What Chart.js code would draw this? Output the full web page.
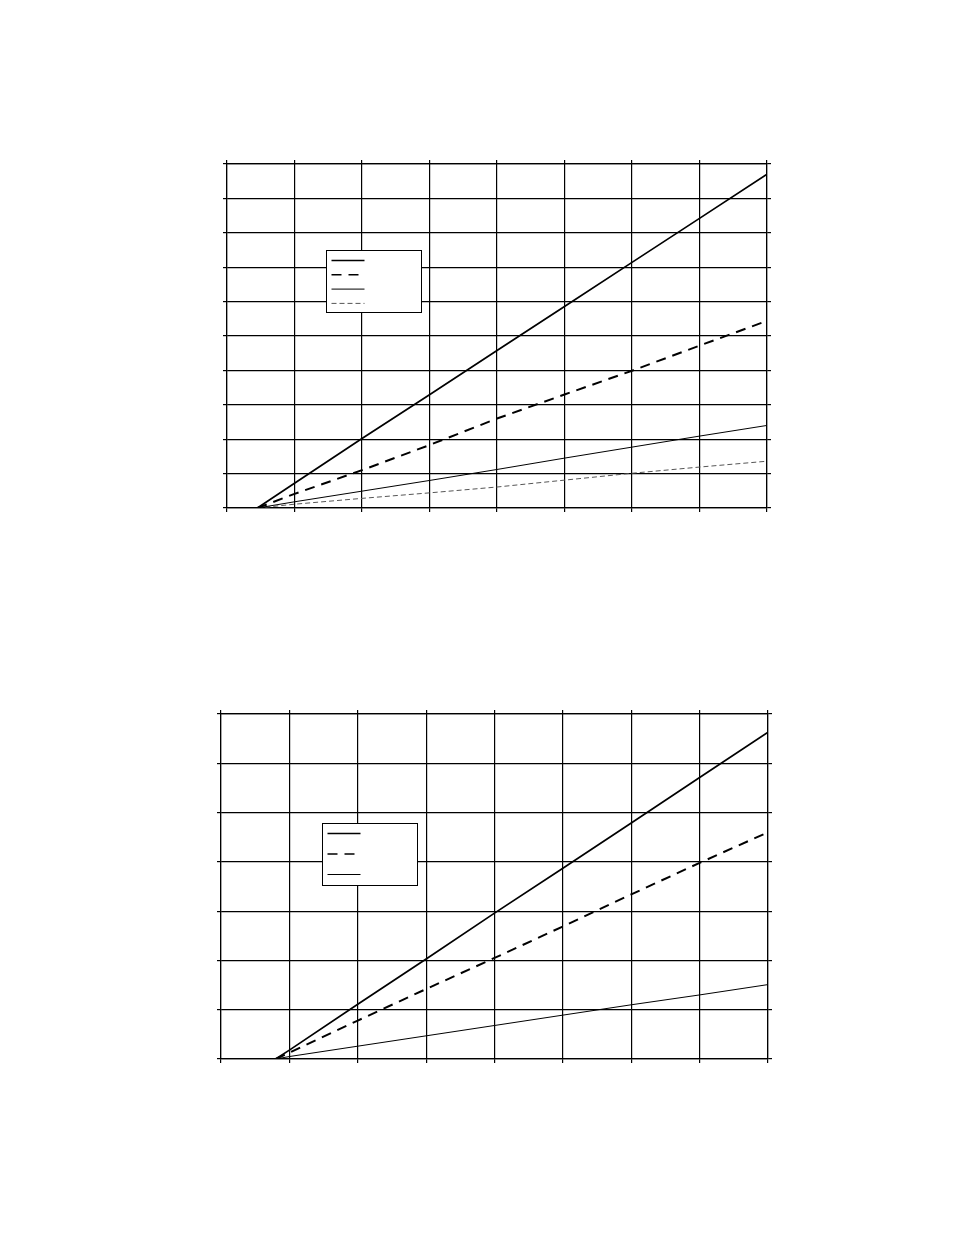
<!DOCTYPE html>
<html>
<head>
<meta charset="utf-8">
<script src="https://cdn.jsdelivr.net/npm/chart.js@4.4.1/dist/chart.umd.min.js"></script>
<style>
  html, body { margin: 0; padding: 0; background: #fff; }
  body { width: 954px; height: 1235px; position: relative; overflow: hidden; font-family: "Liberation Sans", Arial, sans-serif; }
  .chart-box { position: absolute; }
  #box1 { left: 223px; top: 160px; width: 548px; height: 352px; }
  #box2 { left: 217px; top: 710px; width: 555px; height: 353px; }
</style>
</head>
<body>
<div class="chart-box" id="box1"><canvas id="chart1"></canvas></div>
<div class="chart-box" id="box2"><canvas id="chart2"></canvas></div>

<script>
// Upper chart: four curves, all starting at the same point on the x axis
const topX = [0.45, 1, 2, 3, 4, 5, 6, 7, 8];
const topA = [0, 0.72, 2.02, 3.29, 4.58, 5.86, 7.14, 8.42, 9.70];
const topB = [0, 0.41, 1.10, 1.83, 2.60, 3.30, 3.99, 4.72, 5.44];
const topC = [0, 0.18, 0.49, 0.80, 1.12, 1.45, 1.77, 2.09, 2.40];
const topD = [0, 0.11, 0.28, 0.44, 0.61, 0.81, 1.01, 1.19, 1.36];

// Lower chart: three curves
const bottomX = [0.8, 1, 2, 3, 4, 5, 6, 7, 8];
const bottomA = [0, 0.18, 1.11, 2.03, 2.96, 3.87, 4.79, 5.71, 6.63];
const bottomB = [0, 0.13, 0.78, 1.42, 2.05, 2.69, 3.34, 3.98, 4.60];
const bottomC = [0, 0.05, 0.26, 0.47, 0.68, 0.89, 1.10, 1.30, 1.51];

// Axis ranges (no tick labels are printed on the original)
const topXMax = 8, topYMax = 10;
const bottomXMax = 8, bottomYMax = 7;

// line styles shared by both charts
const styles = [
  { borderColor: '#000', borderWidth: 1.7, borderDash: [] },
  { borderColor: '#000', borderWidth: 2, borderDash: [10, 7] },
  { borderColor: '#000', borderWidth: 1, borderDash: [] },
  { borderColor: '#555', borderWidth: 1, borderDash: [5, 3] }
];

function toPoints(xs, ys) {
  return xs.map((x, i) => ({ x: x, y: ys[i] }));
}

function makeDatasets(xs, seriesList) {
  return seriesList.map((ys, i) => Object.assign({
    data: toPoints(xs, ys),
    pointRadius: 0,
    tension: 0,
    fill: false
  }, styles[i]));
}

// Draws the legend frame with sample lines only (the original has no legend text)
const legendBoxPlugin = {
  id: 'legendBox',
  afterDatasetsDraw(chart, args, opts) {
    const ctx = chart.ctx;
    const area = chart.chartArea;
    const left = Math.round(area.left + opts.left * (area.right - area.left)) + 0.5;
    const top = Math.round(area.top + opts.top * (area.bottom - area.top)) + 0.5;
    const w = 95, h = 62;
    ctx.save();
    ctx.fillStyle = '#fff';
    ctx.fillRect(left, top, w, h);
    ctx.strokeStyle = '#000';
    ctx.lineWidth = 1;
    ctx.strokeRect(left, top, w, h);
    const n = chart.data.datasets.length;
    const rowGap = n === 4 ? 14.3 : 20.5;
    const firstRow = top + 10;
    chart.data.datasets.forEach((ds, i) => {
      const y = firstRow + i * rowGap;
      ctx.beginPath();
      ctx.strokeStyle = ds.borderColor;
      ctx.lineWidth = Math.min(ds.borderWidth, 1.5);
      ctx.setLineDash(ds.borderDash || []);
      ctx.moveTo(left + 5, y);
      ctx.lineTo(left + 38, y);
      ctx.stroke();
    });
    ctx.restore();
  }
};

function axis(position, max, onArea) {
  const horizontal = position === 'bottom' || position === 'top';
  return {
    type: 'linear',
    position: position,
    min: 0,
    max: max,
    ticks: { display: false, stepSize: 1 },
    grid: {
      color: '#000',
      lineWidth: 1.2,
      drawOnChartArea: onArea,
      drawTicks: true,
      tickLength: 4,
      tickColor: '#000'
    },
    border: { display: true, color: '#000', width: 1.2 },
    afterFit(scale) {
      if (horizontal) {
        scale.height = 4;
      } else {
        scale.width = 4;
      }
    }
  };
}

function buildChart(canvasId, xs, seriesList, xMax, yMax, legendPos) {
  const ctx = document.getElementById(canvasId).getContext('2d');
  return new Chart(ctx, {
    type: 'line',
    data: { datasets: makeDatasets(xs, seriesList) },
    options: {
      responsive: true,
      maintainAspectRatio: false,
      animation: false,
      layout: { padding: 0, autoPadding: false },
      scales: {
        x: axis('bottom', xMax, true),
        y: axis('left', yMax, true),
        x2: axis('top', xMax, false),
        y2: axis('right', yMax, false)
      },
      plugins: {
        legend: { display: false },
        tooltip: { enabled: false },
        legendBox: legendPos
      }
    },
    plugins: [legendBoxPlugin]
  });
}

buildChart('chart1', topX, [topA, topB, topC, topD], topXMax, topYMax, { left: 0.183, top: 0.25 });
buildChart('chart2', bottomX, [bottomA, bottomB, bottomC], bottomXMax, bottomYMax, { left: 0.185, top: 0.316 });
</script>
</body>
</html>
